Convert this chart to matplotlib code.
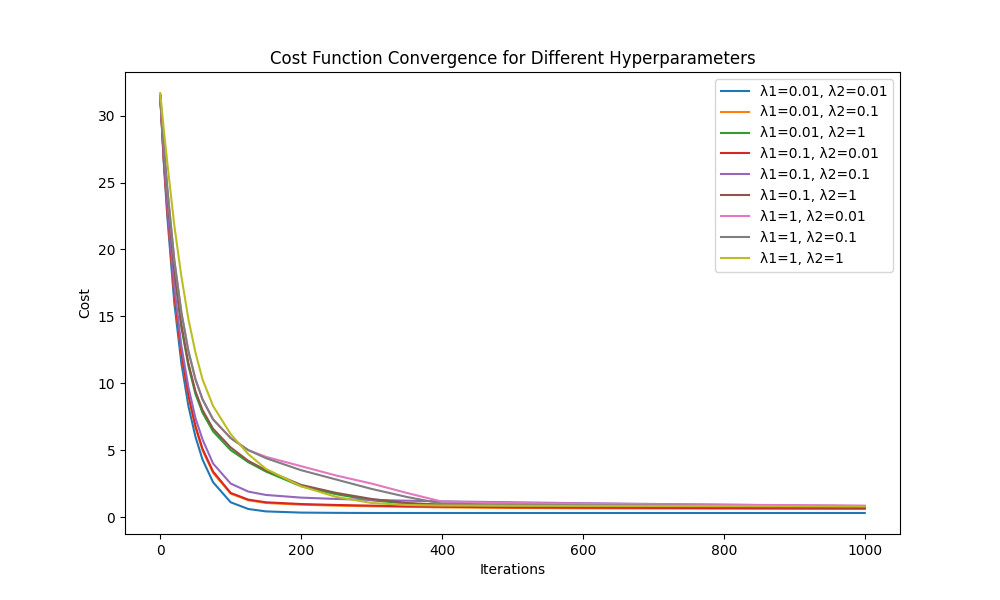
import matplotlib
matplotlib.use("Agg")
import matplotlib.pyplot as plt

iters = [0, 5, 10, 20, 30, 40, 50, 60, 75, 100, 125, 150, 200, 250, 300, 350, 400, 500, 600, 800, 1000]
labels = ["λ1=0.01, λ2=0.01", "λ1=0.01, λ2=0.1", "λ1=0.01, λ2=1", "λ1=0.1, λ2=0.01",
          "λ1=0.1, λ2=0.1", "λ1=0.1, λ2=1", "λ1=1, λ2=0.01", "λ1=1, λ2=0.1", "λ1=1, λ2=1"]
blue   = [31.5, 26.5, 22.5, 16.0, 11.5, 8.3, 6.0, 4.3, 2.6, 1.1, 0.6, 0.42, 0.33, 0.31, 0.30, 0.30, 0.30, 0.30, 0.30, 0.30, 0.30]
orange = [31.5, 26.8, 23.0, 16.6, 12.2, 9.0, 6.7, 5.0, 3.3, 1.75, 1.25, 1.05, 0.92, 0.85, 0.80, 0.76, 0.72, 0.68, 0.65, 0.62, 0.60]
green  = [31.5, 27.5, 24.0, 18.3, 14.2, 11.3, 9.2, 7.8, 6.4, 5.0, 4.1, 3.4, 2.3, 1.7, 1.25, 1.0, 0.9, 0.82, 0.78, 0.72, 0.68]
red    = [31.5, 26.8, 23.0, 16.7, 12.3, 9.1, 6.8, 5.1, 3.4, 1.8, 1.3, 1.1, 0.97, 0.9, 0.85, 0.8, 0.77, 0.72, 0.70, 0.67, 0.65]
purple = [31.5, 27.0, 23.3, 17.2, 12.8, 9.7, 7.4, 5.8, 4.0, 2.5, 1.9, 1.65, 1.45, 1.35, 1.28, 1.22, 1.17, 1.1, 1.03, 0.92, 0.82]
brown  = [31.5, 27.6, 24.2, 18.5, 14.4, 11.5, 9.4, 8.0, 6.6, 5.2, 4.2, 3.5, 2.4, 1.8, 1.35, 1.05, 0.92, 0.85, 0.8, 0.75, 0.72]
pink   = [31.5, 27.8, 24.6, 19.2, 15.3, 12.4, 10.3, 8.8, 7.3, 5.9, 5.0, 4.5, 3.8, 3.1, 2.5, 1.8, 1.15, 1.05, 1.0, 0.92, 0.85]
gray   = [31.5, 27.8, 24.6, 19.2, 15.3, 12.4, 10.3, 8.8, 7.3, 5.9, 5.0, 4.4, 3.5, 2.8, 2.1, 1.5, 1.0, 0.92, 0.88, 0.83, 0.8]
olive  = [31.7, 29.0, 26.5, 21.8, 18.0, 14.8, 12.3, 10.3, 8.3, 6.2, 4.7, 3.6, 2.3, 1.5, 1.05, 0.9, 0.86, 0.84, 0.83, 0.82, 0.8]
series = [blue, orange, green, red, purple, brown, pink, gray, olive]

fig, ax = plt.subplots(figsize=(10, 6), dpi=100)
for lab, s in zip(labels, series):
    ax.plot(iters, s, label=lab)
ax.set_title("Cost Function Convergence for Different Hyperparameters")
ax.set_xlabel("Iterations")
ax.set_ylabel("Cost")
ax.legend(loc="upper right")
fig.savefig("out.png")
